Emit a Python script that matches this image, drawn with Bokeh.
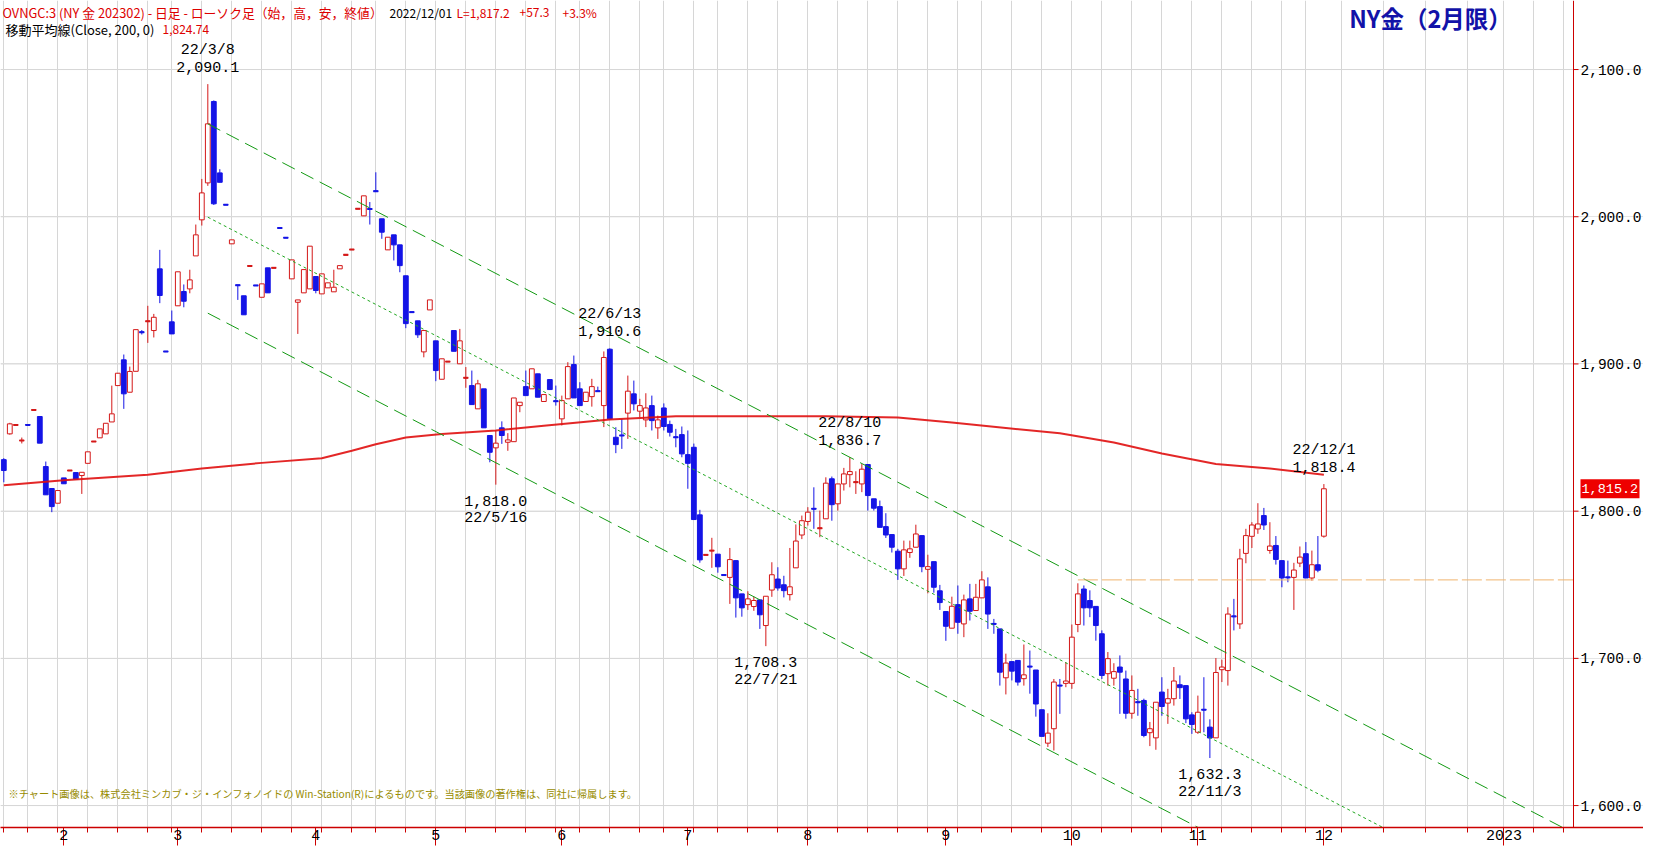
import pandas as pd
from bokeh.plotting import figure
from bokeh.models import ColumnDataSource, FixedTicker, Range1d, Span
from bokeh.embed import file_html
from bokeh.resources import INLINE
from bokeh.core.properties import value

# ------------------------------------------------------------------ data
first_session = "2022-01-18"
last_session = "2022-12-01"
exchange_holidays = ["2022-01-17", "2022-02-21", "2022-04-15", "2022-05-30",
                     "2022-06-20", "2022-07-04", "2022-09-05", "2022-11-24"]

opens = [
    1835.0, 1852.5, 1858.6, 1848.0, 1858.7, 1868.8, 1864.3, 1830.3, 1815.4, 1805.4,
    1822.6, 1827.6, 1826.2, 1824.2, 1832.5, 1847.3, 1849.8, 1852.5, 1860.6, 1885.3,
    1902.8, 1880.8, 1895.0, 1921.7, 1929.0, 1922.7, 1964.6, 1908.5, 1928.6, 1939.5,
    1949.2, 1951.0, 1973.4, 1997.9, 2023.0, 2078.3, 2029.8, 2008.2, 1981.6, 1953.6,
    1946.3, 1966.6, 1953.4, 1945.3, 1965.3, 1965.3, 1992.4, 1985.8, 1957.8, 1941.9,
    1948.3, 1951.0, 1959.4, 1947.6, 1951.7, 1949.0, 1964.6, 1974.1, 1977.7, 2005.4,
    2000.6, 2005.3, 2017.5, 1998.6, 1977.5, 1987.7, 1980.9, 1959.9, 1935.3, 1929.3,
    1908.2, 1936.7, 1915.7, 1889.6, 1901.6, 1922.7, 1900.1, 1890.6, 1885.3, 1869.5,
    1883.1, 1851.4, 1843.0, 1856.6, 1846.8, 1847.2, 1871.7, 1884.6, 1883.1, 1893.3,
    1874.5, 1889.4, 1874.8, 1862.7, 1876.3, 1899.6, 1883.1, 1874.5, 1877.8, 1881.6,
    1871.7, 1910.0, 1850.2, 1851.5, 1866.6, 1879.7, 1867.9, 1862.0, 1871.7, 1856.6,
    1870.1, 1858.9, 1850.3, 1852.0, 1838.4, 1843.4, 1797.5, 1770.3, 1773.2, 1770.8,
    1756.7, 1755.0, 1766.4, 1743.8, 1736.5, 1735.2, 1739.7, 1722.3, 1746.4, 1753.9,
    1750.0, 1743.3, 1761.5, 1783.8, 1793.0, 1801.7, 1788.4, 1794.8, 1822.0, 1805.0,
    1818.5, 1824.8, 1819.7, 1818.5, 1831.7, 1808.4, 1803.1, 1789.5, 1784.1, 1772.8,
    1760.8, 1771.9, 1775.5, 1783.4, 1760.5, 1765.7, 1745.9, 1731.8, 1720.5, 1736.5,
    1723.4, 1740.4, 1732.5, 1741.1, 1748.6, 1723.5, 1720.0, 1686.8, 1697.8, 1698.6,
    1686.2, 1694.5, 1692.1, 1665.1, 1642.4, 1652.2, 1681.6, 1683.0, 1683.0, 1723.0,
    1747.1, 1739.3, 1735.3, 1716.7, 1689.6, 1686.5, 1694.1, 1686.0, 1662.7, 1670.3,
    1671.4, 1649.5, 1646.0, 1677.1, 1669.6, 1672.6, 1682.1, 1681.5, 1661.6, 1649.8,
    1665.2, 1653.3, 1646.0, 1692.3, 1691.7, 1728.6, 1723.4, 1771.3, 1782.9, 1787.9,
    1797.0, 1773.3, 1776.7, 1766.4, 1755.1, 1755.0, 1764.7, 1771.1, 1754.6, 1763.6,
    1783.0,
]
highs = [
    1836.0, 1860.0, 1858.6, 1850.0, 1858.7, 1868.8, 1864.3, 1833.7, 1815.4, 1814.0,
    1822.6, 1827.6, 1826.2, 1826.4, 1840.3, 1847.3, 1855.9, 1859.7, 1885.3, 1893.7,
    1906.4, 1898.2, 1923.3, 1923.0, 1939.5, 1934.0, 1977.5, 1908.5, 1936.3, 1962.6,
    1954.0, 1964.0, 1994.7, 2025.7, 2090.1, 2079.0, 2032.3, 2008.2, 1984.3, 1953.6,
    1946.3, 1966.6, 1953.4, 1954.4, 1965.3, 1965.3, 1992.4, 1985.8, 1970.7, 1943.5,
    1964.1, 1980.0, 1959.4, 1961.2, 1955.1, 1964.0, 1966.8, 1974.1, 1977.7, 2005.4,
    2014.2, 2010.0, 2030.2, 1998.6, 1986.1, 1987.7, 1980.9, 1959.9, 1935.3, 1929.3,
    1922.7, 1943.5, 1915.7, 1903.5, 1901.6, 1922.7, 1923.8, 1897.9, 1895.5, 1889.2,
    1883.1, 1851.4, 1854.8, 1861.0, 1853.0, 1876.9, 1874.0, 1895.5, 1896.7, 1893.3,
    1879.2, 1889.4, 1885.3, 1878.5, 1901.2, 1905.7, 1887.6, 1880.8, 1889.9, 1884.6,
    1908.5, 1910.6, 1857.0, 1862.7, 1892.1, 1888.7, 1876.3, 1880.1, 1878.5, 1864.9,
    1873.2, 1861.5, 1855.9, 1857.5, 1854.8, 1845.9, 1800.9, 1770.3, 1781.9, 1770.8,
    1756.7, 1775.0, 1766.4, 1743.8, 1745.6, 1742.0, 1739.7, 1742.2, 1765.3, 1761.9,
    1756.1, 1775.0, 1791.0, 1797.0, 1802.7, 1816.2, 1800.4, 1823.0, 1823.5, 1818.5,
    1829.4, 1836.7, 1827.1, 1832.0, 1831.7, 1808.4, 1807.2, 1798.6, 1784.1, 1774.4,
    1780.0, 1780.0, 1790.8, 1783.4, 1770.4, 1765.7, 1749.9, 1731.8, 1741.9, 1749.5,
    1743.3, 1750.6, 1750.6, 1759.2, 1755.0, 1726.8, 1720.0, 1703.2, 1697.8, 1698.6,
    1709.4, 1705.3, 1692.1, 1665.1, 1662.7, 1686.0, 1686.0, 1697.4, 1723.0, 1751.0,
    1749.5, 1746.2, 1735.3, 1719.0, 1704.3, 1696.7, 1702.0, 1691.7, 1688.4, 1679.3,
    1672.6, 1656.8, 1670.2, 1687.2, 1679.3, 1694.1, 1688.4, 1681.5, 1663.4, 1674.7,
    1687.2, 1658.6, 1700.2, 1699.1, 1734.7, 1740.4, 1774.4, 1788.0, 1792.5, 1805.4,
    1802.2, 1792.5, 1783.1, 1766.4, 1766.4, 1764.9, 1776.0, 1779.0, 1773.2, 1783.1,
    1818.4,
]
lows = [
    1819.6, 1852.0, 1858.6, 1846.0, 1858.6, 1868.8, 1846.2, 1811.1, 1799.3, 1805.4,
    1818.6, 1827.6, 1821.7, 1811.7, 1832.5, 1847.3, 1849.8, 1852.5, 1860.6, 1885.3,
    1869.5, 1880.8, 1895.0, 1920.0, 1914.3, 1918.0, 1941.3, 1908.4, 1920.4, 1939.5,
    1938.5, 1948.0, 1973.4, 1994.0, 2021.0, 2008.0, 2023.4, 2008.1, 1981.6, 1943.5,
    1933.4, 1966.6, 1953.3, 1945.3, 1948.3, 1965.3, 1992.3, 1985.7, 1957.8, 1920.4,
    1948.3, 1951.0, 1948.0, 1947.6, 1951.7, 1949.0, 1964.6, 1974.1, 1977.7, 2005.4,
    2000.6, 1994.7, 2017.4, 1985.0, 1977.5, 1970.3, 1962.3, 1924.3, 1935.2, 1917.7,
    1904.5, 1936.7, 1888.3, 1889.6, 1901.6, 1908.6, 1900.1, 1883.8, 1872.4, 1869.5,
    1856.6, 1833.2, 1818.0, 1845.7, 1841.0, 1847.2, 1867.2, 1878.5, 1883.1, 1877.4,
    1874.5, 1882.6, 1871.7, 1858.2, 1876.3, 1876.9, 1871.7, 1874.5, 1871.0, 1881.5,
    1857.1, 1862.0, 1839.4, 1842.3, 1849.1, 1868.4, 1863.8, 1857.1, 1854.8, 1849.1,
    1854.8, 1850.7, 1843.4, 1836.6, 1815.2, 1794.3, 1765.0, 1770.3, 1761.5, 1758.2,
    1756.6, 1737.0, 1727.7, 1728.3, 1732.9, 1732.3, 1720.0, 1708.3, 1741.8, 1746.0,
    1741.4, 1739.3, 1761.5, 1781.0, 1790.2, 1788.0, 1782.3, 1794.8, 1793.5, 1800.4,
    1814.0, 1816.2, 1811.7, 1812.9, 1800.4, 1800.4, 1789.0, 1781.8, 1771.9, 1753.3,
    1756.0, 1768.3, 1775.5, 1758.5, 1744.2, 1744.6, 1732.9, 1711.9, 1720.5, 1716.7,
    1714.4, 1725.7, 1732.5, 1741.1, 1720.0, 1716.7, 1681.5, 1675.5, 1685.0, 1681.5,
    1681.5, 1676.0, 1660.4, 1647.0, 1639.8, 1637.4, 1662.3, 1680.4, 1679.3, 1717.8,
    1722.3, 1728.0, 1712.0, 1686.0, 1681.5, 1681.5, 1662.3, 1659.0, 1659.0, 1661.0,
    1646.4, 1640.4, 1637.9, 1661.0, 1655.5, 1667.9, 1672.4, 1656.0, 1648.7, 1648.7,
    1649.8, 1632.3, 1646.0, 1683.9, 1681.5, 1719.0, 1720.0, 1764.6, 1775.0, 1784.6,
    1787.2, 1771.1, 1763.7, 1748.3, 1751.7, 1732.9, 1762.0, 1754.6, 1752.8, 1758.5,
    1782.0,
]
closes = [
    1827.6, 1859.3, 1858.6, 1848.0, 1858.6, 1868.8, 1846.2, 1811.1, 1803.1, 1814.0,
    1818.6, 1827.6, 1821.7, 1826.4, 1840.3, 1847.3, 1855.9, 1859.7, 1866.1, 1893.7,
    1879.7, 1894.9, 1923.3, 1921.6, 1929.0, 1931.7, 1946.5, 1908.4, 1920.4, 1962.6,
    1942.6, 1957.1, 1987.7, 2016.2, 2063.1, 2008.8, 2023.4, 2008.1, 1984.3, 1953.5,
    1933.4, 1966.6, 1953.3, 1954.4, 1948.3, 1965.3, 1992.3, 1985.7, 1970.7, 1943.5,
    1964.1, 1980.0, 1949.9, 1961.2, 1955.1, 1952.1, 1966.8, 1974.1, 1977.7, 2005.4,
    2014.2, 2005.2, 2017.4, 1989.5, 1986.1, 1980.9, 1966.8, 1927.4, 1935.2, 1919.8,
    1922.7, 1943.5, 1895.5, 1903.5, 1901.6, 1908.6, 1915.7, 1890.6, 1872.4, 1886.5,
    1856.6, 1840.0, 1846.2, 1851.4, 1848.4, 1876.9, 1874.0, 1878.5, 1896.7, 1877.4,
    1879.2, 1882.6, 1874.7, 1875.1, 1898.2, 1876.9, 1871.7, 1880.8, 1884.6, 1881.5,
    1904.4, 1862.7, 1845.2, 1851.4, 1881.5, 1872.9, 1871.7, 1870.1, 1861.5, 1862.0,
    1857.5, 1853.6, 1850.2, 1838.9, 1832.5, 1794.3, 1766.9, 1770.3, 1773.2, 1762.2,
    1756.6, 1767.1, 1741.1, 1734.3, 1740.4, 1739.3, 1729.6, 1742.2, 1756.8, 1747.8,
    1746.0, 1748.6, 1779.7, 1793.5, 1799.3, 1801.6, 1788.4, 1819.0, 1804.4, 1818.5,
    1825.3, 1826.9, 1819.7, 1828.5, 1810.6, 1802.0, 1789.0, 1783.8, 1775.5, 1760.8,
    1773.7, 1774.4, 1784.5, 1762.3, 1762.3, 1748.3, 1737.9, 1721.8, 1735.4, 1724.5,
    1739.7, 1732.0, 1741.5, 1753.3, 1730.1, 1723.4, 1690.6, 1696.8, 1691.3, 1683.9,
    1688.8, 1694.4, 1669.0, 1647.0, 1649.2, 1683.9, 1681.5, 1684.6, 1714.4, 1743.8,
    1734.3, 1734.3, 1722.3, 1688.4, 1699.8, 1691.0, 1690.6, 1662.7, 1678.2, 1670.2,
    1647.6, 1652.2, 1670.2, 1667.3, 1672.6, 1684.6, 1680.1, 1658.9, 1655.1, 1663.4,
    1665.1, 1645.9, 1690.4, 1694.1, 1730.1, 1728.5, 1767.6, 1783.4, 1790.6, 1791.3,
    1790.6, 1776.3, 1767.2, 1754.6, 1755.0, 1760.0, 1768.8, 1754.6, 1763.6, 1759.9,
    1815.2,
]

# 200-day moving average, read at these sessions
ma_dates = ["2022-01-18", "2022-02-01", "2022-02-22", "2022-03-07", "2022-03-21",
            "2022-04-04", "2022-04-11", "2022-04-18", "2022-04-25", "2022-05-03",
            "2022-05-16", "2022-05-26", "2022-06-13", "2022-06-29", "2022-07-18",
            "2022-08-04", "2022-08-22", "2022-09-02", "2022-09-16", "2022-09-29",
            "2022-10-12", "2022-10-24", "2022-11-04", "2022-11-17", "2022-12-01"]
ma_values = [1817.6, 1821.0, 1824.8, 1829.0, 1832.8,
             1836.0, 1841.0, 1845.5, 1850.0, 1852.4,
             1854.8, 1858.0, 1862.3, 1864.5, 1864.5,
             1864.4, 1863.6, 1860.2, 1856.5, 1852.9,
             1846.6, 1839.1, 1832.0, 1829.0, 1824.74]

month_labels = ["2", "3", "4", "5", "6", "7", "8", "9", "10", "11", "12"]
next_year_label = "2023"
next_year_offset = 30            # slots after the last session
future_week_offsets = [3, 10, 17, 24, 30, 35, 40]

high_marks = ["2022-03-08", "2022-06-13", "2022-08-10", "2022-12-01"]
low_marks = ["2022-05-16", "2022-07-21", "2022-11-03"]

channel_anchor = "2022-03-08"
channel_levels = [2063.1, 1999.7, 1934.5]
channel_slope = -2.117           # price per session
support_from = "2022-10-04"
support_level = 1753.3

y_ticks = [1600, 1700, 1800, 1900, 2000, 2100]

header_main = "OVNGC:3 (NY 金 202302) - 日足 - ローソク足（始，高，安，終値）"
header_date = "2022/12/01"
header_last = "L=1,817.2"
header_chg = "+57.3"
header_pct = "+3.3%"
ma_caption = "移動平均線(Close, 200, 0)"
ma_last = "1,824.74"
title_text = "NY金（2月限）"
footer_text = "※チャート画像は、株式会社ミンカブ・ジ・インフォノイドの Win-Station(R)によるものです。当該画像の著作権は、同社に帰属します。"

# ------------------------------------------------------------------ layout
CANVAS_W, CANVAS_H = 1643, 847
FRAME_W, FRAME_H = 1573, 827          # price area (axis line at its right edge)
X0, X1 = -0.55, 261.6
Y0, Y1 = 1585.1, 2146.9
PX = (X1 - X0) / FRAME_W               # data units per pixel, x
PY = (Y1 - Y0) / FRAME_H               # data units per pixel, y
XR = X0 + CANVAS_W * PX                # right end including the price scale area


def px_x(xr):
    return X0 + xr * PX


def px_y(yr):
    return Y1 - yr * PY


RED = "#d41818"
BLUE = "#1414e6"
GRID = "#d6d6d6"
AXIS_RED = "#cc0000"
MONO = "Liberation Mono"
JP = "Noto Sans CJK JP"

sessions = pd.bdate_range(first_session, last_session, freq="C", holidays=exchange_holidays)
n = len(sessions)
pos = {d.strftime("%Y-%m-%d"): i for i, d in enumerate(sessions)}
xs = list(range(n))

month_ticks = []
for lab in month_labels:
    m = int(lab)
    for i, d in enumerate(sessions):
        if d.month == m:
            month_ticks.append(i)
            break
month_ticks.append(n - 1 + next_year_offset)
tick_labels = month_labels + [next_year_label]

week_ticks = []
prev = None
for i, d in enumerate(sessions):
    wk = d.isocalendar()[1]
    if wk != prev:
        week_ticks.append(i)
        prev = wk
week_ticks += [n - 1 + o for o in future_week_offsets]

up = [c >= o for o, c in zip(opens, closes)]
col = [RED if u else BLUE for u in up]
fill = ["white" if u else BLUE for u in up]
src = ColumnDataSource(dict(
    x=xs, high=highs, low=lows,
    top=[max(o, c) for o, c in zip(opens, closes)],
    bottom=[min(o, c) for o, c in zip(opens, closes)],
    col=col, fill=fill))
doji_idx = [i for i in range(n) if abs(opens[i] - closes[i]) < 0.3]
doji = ColumnDataSource(dict(
    x0=[i - 0.4 for i in doji_idx], x1=[i + 0.4 for i in doji_idx],
    y=[closes[i] for i in doji_idx], col=[col[i] for i in doji_idx]))

p = figure(width=CANVAS_W, height=CANVAS_H, title=None,
           x_range=Range1d(X0, XR), y_range=Range1d(Y0, Y1),
           y_axis_location=None, output_backend="svg", toolbar_location=None,
           min_border_left=0, min_border_top=0, min_border_right=0, min_border_bottom=20)
p.outline_line_color = None
p.background_fill_color = "white"
p.border_fill_color = "white"

# time axis
xa = p.xaxis[0]
xa.ticker = FixedTicker(ticks=month_ticks, minor_ticks=week_ticks)
xa.major_label_overrides = {float(t): l for t, l in zip(month_ticks, tick_labels)}
xa.axis_line_color = AXIS_RED
xa.axis_line_width = 1.5
xa.major_tick_line_color = AXIS_RED
xa.minor_tick_line_color = AXIS_RED
xa.major_tick_in = 0
xa.major_tick_out = 18
xa.minor_tick_in = 0
xa.minor_tick_out = 5
xa.major_label_standoff = -16
xa.major_label_text_align = "left"
xa.major_label_text_font = MONO
xa.major_label_text_font_size = "15px"
xa.major_label_text_color = "black"

p.xgrid.ticker = FixedTicker(ticks=week_ticks)
p.xgrid.grid_line_color = GRID

# horizontal grid (price area only)
p.segment(x0=[X0] * len(y_ticks), x1=[X1] * len(y_ticks), y0=y_ticks, y1=y_ticks,
          line_color=GRID, line_width=1)

# price scale on the right edge of the price area
p.add_layout(Span(location=X1, dimension="height", line_color=AXIS_RED, line_width=1))
p.segment(x0=[X1] * len(y_ticks), x1=[X1 + 5 * PX] * len(y_ticks), y0=y_ticks, y1=y_ticks,
          line_color=AXIS_RED, line_width=1)
p.text(x=[X1] * len(y_ticks), y=y_ticks, text=[f"{v:,.1f}" for v in y_ticks],
       x_offset=7, text_font=value(MONO), text_font_size="14.5px", text_color="black",
       text_align="left", text_baseline="middle")

# candles
p.segment(x0="x", y0="low", x1="x", y1="high", line_color="col", line_width=1, source=src)
p.vbar(x="x", top="top", bottom="bottom", width=0.8, fill_color="fill",
       line_color="col", line_width=1, source=src)
p.segment(x0="x0", y0="y", x1="x1", y1="y", line_color="col", line_width=2, source=doji)

# moving average
p.line([pos[d] for d in ma_dates], ma_values, line_color="#e01010", line_width=2, line_alpha=0.9)

# regression channel
a = pos[channel_anchor]
for lvl, dash, lc in zip(channel_levels, ["14 7", "3 3", "14 7"],
                         ["#139a13", "#22a822", "#139a13"]):
    p.line([a, X1], [lvl, lvl + channel_slope * (X1 - a)],
           line_color=lc, line_width=1, line_dash=dash)

# horizontal support line
p.line([pos[support_from], X1], [support_level, support_level],
       line_color="#f0b46e", line_width=1, line_dash="20 4")

# last price box
last = closes[-1]
p.quad(left=[X1 + 7 * PX], right=[X1 + 66 * PX], bottom=[last - 9.5 * PY], top=[last + 9.5 * PY],
       fill_color="#ee0000", line_color=None)
p.text(x=[X1], y=[last], text=[f"{last:,.1f}"], x_offset=8,
       text_font=value(MONO), text_font_size="13.5px", text_color="white",
       text_align="left", text_baseline="middle")

# high / low annotations
tx, ty, tt, toff = [], [], [], []
for d in high_marks:
    i = pos[d]
    ts = sessions[i]
    tx += [i, i]
    ty += [highs[i], highs[i]]
    tt += [f"{ts.year % 100}/{ts.month}/{ts.day}", f"{highs[i]:,.1f}"]
    toff += [-34, -17]
for d in low_marks:
    i = pos[d]
    ts = sessions[i]
    tx += [i, i]
    ty += [lows[i], lows[i]]
    tt += [f"{lows[i]:,.1f}", f"{ts.year % 100}/{ts.month}/{ts.day}"]
    toff += [16, 34]
p.text(x="x", y="y", text="t", y_offset="off",
       source=ColumnDataSource(dict(x=tx, y=ty, t=tt, off=toff)),
       text_font=value(MONO), text_font_size="15px", text_color="black",
       text_align="center", text_baseline="middle")


def put(xr, yr, txt, color, size="12px", font=JP, style="normal", align="left"):
    p.text(x=[px_x(xr)], y=[px_y(yr)], text=[txt], text_color=color,
           text_font=value(font), text_font_size=size, text_font_style=style,
           text_align=align, text_baseline="middle")


# header
put(2, 12, header_main, "#dd0000", size="12.8px")
put(389, 12, header_date, "black")
put(456, 12, header_last, "#dd0000")
put(519, 12, header_chg, "#dd0000")
put(562, 12, header_pct, "#dd0000")
put(5, 29, ma_caption, "black", size="13px")
put(162, 29, ma_last, "#dd0000")
put(1430, 17, title_text, "#1212a8", size="23.5px", style="bold", align="center")
put(8, 793, footer_text, "#978b00", size="10.2px")

open("out.html", "w").write(file_html(p, INLINE))
